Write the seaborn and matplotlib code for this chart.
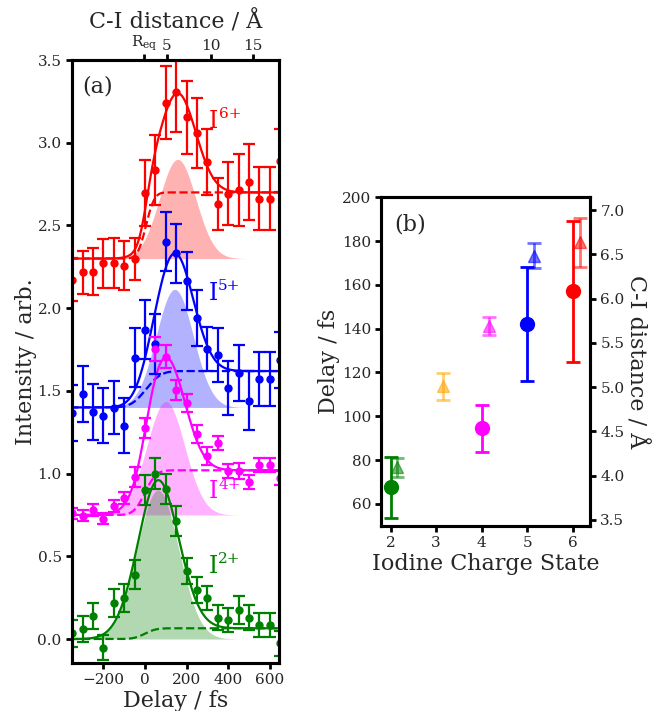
import math
import numpy as np
import matplotlib
matplotlib.use('Agg')
import matplotlib.pyplot as plt
import seaborn as sns

sns.set_theme(style='ticks')
plt.rcParams['font.family'] = ['DejaVu Serif']
plt.rcParams['mathtext.fontset'] = 'dejavuserif'

# ---- panel (a): ion yields vs delay ----
delay = [-350, -300, -250, -200, -150, -100, -50, 0, 50, 100, 150,
         200, 250, 300, 350, 400, 450, 500, 550, 600, 650]

i6_y = [2.171, 2.217, 2.221, 2.271, 2.273, 2.257, 2.297, 2.695, 2.836, 3.242, 3.305,
        3.154, 3.059, 2.886, 2.630, 2.692, 2.715, 2.761, 2.662, 2.662, 2.892]
i6_err = [0.13, 0.13, 0.14, 0.15, 0.15, 0.15, 0.125, 0.2, 0.21, 0.22, 0.24,
          0.22, 0.21, 0.2, 0.16, 0.19, 0.22, 0.23, 0.19, 0.19, 0.19]

i5_y = [1.368, 1.481, 1.371, 1.350, 1.398, 1.290, 1.701, 1.870, 1.782, 2.402, 2.331,
        2.164, 1.939, 1.752, 1.716, 1.516, 1.610, 1.441, 1.571, 1.571, 1.687]
i5_err = [0.17, 0.17, 0.17, 0.165, 0.16, 0.166, 0.177, 0.18, 0.18, 0.18, 0.177,
          0.175, 0.17, 0.134, 0.163, 0.163, 0.17, 0.177, 0.163, 0.163, 0.17]

i4_y = [0.760, 0.745, 0.780, 0.726, 0.806, 0.851, 0.981, 1.274, 1.753, 1.707, 1.505,
        1.425, 1.239, 1.106, 1.183, 1.016, 1.016, 0.951, 1.052, 1.052, 0.972]
i4_err = [0.035, 0.033, 0.035, 0.033, 0.036, 0.036, 0.06, 0.06, 0.075, 0.069, 0.06,
          0.055, 0.055, 0.055, 0.042, 0.042, 0.048, 0.042, 0.042, 0.042, 0.042]

i2_y = [0.034, 0.06, 0.14, -0.053, 0.22, 0.246, 0.39, 0.90, 1.00, 0.907, 0.713,
        0.41, 0.296, 0.248, 0.13, 0.115, 0.178, 0.13, 0.085, 0.085, -0.027]
i2_err = [0.08, 0.08, 0.08, 0.075, 0.085, 0.085, 0.09, 0.09, 0.095, 0.09, 0.09,
          0.08, 0.08, 0.075, 0.075, 0.075, 0.085, 0.075, 0.075, 0.075, 0.075]

# fit parameters: offset, gaussian amp / centre / sigma, step height / centre / width
series_names = ['6+', '5+', '4+', '2+']
series_colors = ['red', 'blue', 'magenta', 'green']
fit_offset = [2.30, 1.40, 0.75, 0.0]
fit_amp = [0.60, 0.714, 0.685, 0.90]
fit_t0 = [157, 143, 100, 62]
fit_sigma = [87, 89, 91, 100]
fit_step = [0.40, 0.22, 0.27, 0.065]
fit_t1 = [5, 5, 0, 0]
fit_w = [45, 80, 60, 60]
label_pos = [(308, 3.09), (305, 2.05), (305, 0.85), (305, 0.40)]

all_y = [i6_y, i5_y, i4_y, i2_y]
all_err = [i6_err, i5_err, i4_err, i2_err]

# top axis: C-I distance
dist_tick_delay = [-5, 106, 316, 518]
dist_tick_labels = [r'R$_{\rm eq}$', '5', '10', '15']

# ---- panel (b) ----
charge_circ = [2, 4, 5, 6]
delay_circ = [67.5, 94.5, 142, 157]
delay_circ_err = [14, 10.7, 26, 32.4]
circ_colors = ['green', 'magenta', 'blue', 'red']

charge_tri = [2, 3, 4, 5, 6]
dist_tri = [4.095, 5.01, 5.69, 6.485, 6.635]
dist_tri_err = [0.105, 0.155, 0.104, 0.14, 0.277]
tri_colors = ['green', 'orange', 'magenta', 'blue', 'red']

fig = plt.figure(figsize=(6.68, 7.11), dpi=100)
ax = fig.add_axes([0.108, 0.0675, 0.310, 0.848])

t = np.linspace(-360, 660, 600)
erf = np.vectorize(math.erf)
for k in range(4):
    c = series_colors[k]
    gauss = fit_amp[k] * np.exp(-(t - fit_t0[k]) ** 2 / (2 * fit_sigma[k] ** 2))
    step = fit_step[k] * 0.5 * (1 + erf((t - fit_t1[k]) / fit_w[k]))
    base = fit_offset[k]
    ax.fill_between(t, base, base + gauss, color=c, alpha=0.3, lw=0, zorder=1)
    sns.lineplot(x=t, y=base + gauss + step, color=c, lw=1.6, ax=ax, zorder=3)
    sns.lineplot(x=t, y=base + step, color=c, lw=1.6, ls='--', ax=ax, zorder=3)
    ax.errorbar(delay, all_y[k], yerr=all_err[k], fmt='o', color=c, ms=5,
                elinewidth=1.6, capsize=4, capthick=1.6, zorder=4)
    lx, ly = label_pos[k]
    ax.text(lx, ly, 'I', color=c, fontsize=17, va='baseline')
    ax.annotate(series_names[k], (lx, ly), xytext=(7, 7), textcoords='offset points',
                color=c, fontsize=11, va='baseline')

ax.set_xlim(-350, 645)
ax.set_ylim(-0.145, 3.5)
ax.set_xticks([-200, 0, 200, 400, 600])
ax.set_yticks([0.0, 0.5, 1.0, 1.5, 2.0, 2.5, 3.0, 3.5])
ax.set_xlabel('Delay / fs', fontsize=16, labelpad=2)
ax.set_ylabel('Intensity / arb.', fontsize=16, labelpad=0)
ax.text(0.05, 0.975, '(a)', transform=ax.transAxes, fontsize=16, va='top')

ax_top = ax.twiny()
ax_top.set_xlim(ax.get_xlim())
ax_top.set_xticks(dist_tick_delay)
ax_top.set_xticklabels(dist_tick_labels)
ax_top.set_xlabel('C-I distance / Å', fontsize=16, labelpad=4)

axb = fig.add_axes([0.571, 0.2606, 0.312, 0.4619])
for k in range(len(charge_circ)):
    axb.errorbar(charge_circ[k], delay_circ[k], yerr=delay_circ_err[k], fmt='o',
                 color=circ_colors[k], ms=10, elinewidth=2, capsize=5, capthick=2)
axb.set_xlim(1.8, 6.37)
axb.set_ylim(50, 200)
axb.set_xticks([2, 3, 4, 5, 6])
axb.set_yticks([60, 80, 100, 120, 140, 160, 180, 200])
axb.set_xlabel('Iodine Charge State', fontsize=16, labelpad=2)
axb.set_ylabel('Delay / fs', fontsize=16, labelpad=1)
axb.text(0.06, 0.95, '(b)', transform=axb.transAxes, fontsize=16, va='top')

axr = axb.twinx()
for k in range(len(charge_tri)):
    axr.errorbar(charge_tri[k] + 0.15, dist_tri[k], yerr=dist_tri_err[k], fmt='^',
                 color=tri_colors[k], alpha=0.55, ms=9, elinewidth=2, capsize=5,
                 capthick=2)
axr.set_ylim(3.435, 7.145)
axr.set_yticks([3.5, 4.0, 4.5, 5.0, 5.5, 6.0, 6.5, 7.0])
axr.set_ylabel('C-I distance / Å', fontsize=16, rotation=270, labelpad=17)

for a in [ax, ax_top, axb, axr]:
    for s in a.spines.values():
        s.set_linewidth(2.2)
        s.set_color('black')
    a.tick_params(labelsize=11, width=2, length=4, direction='out', color='black')
ax_top.tick_params(pad=1)

fig.savefig('out.png', dpi=100)
